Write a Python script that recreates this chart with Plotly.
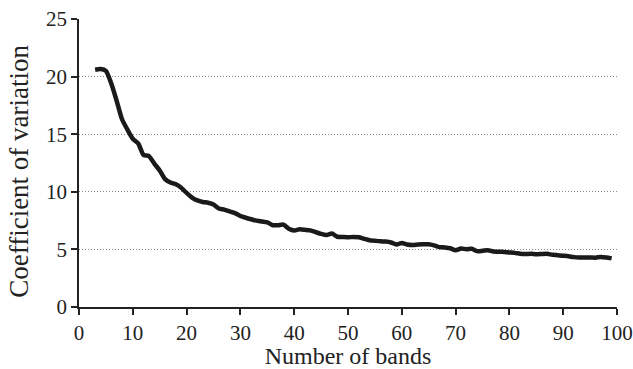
import plotly.graph_objects as go

bands = list(range(3, 100))
cv = [
    20.6, 20.65, 20.5, 19.4, 17.9, 16.3, 15.4, 14.6, 14.2, 13.2,   # 3-12
    13.1, 12.45, 11.85, 11.1, 10.8, 10.65, 10.35, 9.9, 9.5, 9.25,  # 13-22
    9.12, 9.05, 8.9, 8.55, 8.45, 8.3, 8.15, 7.9, 7.75, 7.62,       # 23-32
    7.5, 7.42, 7.35, 7.1, 7.1, 7.15, 6.8, 6.65, 6.74, 6.7,         # 33-42
    6.65, 6.5, 6.35, 6.25, 6.38, 6.1, 6.08, 6.05, 6.08, 6.05,      # 43-52
    5.92, 5.8, 5.75, 5.7, 5.68, 5.6, 5.42, 5.56, 5.42, 5.38,       # 53-62
    5.42, 5.44, 5.44, 5.35, 5.2, 5.17, 5.1, 4.92, 5.08, 5.02,      # 63-72
    5.06, 4.85, 4.88, 4.93, 4.82, 4.8, 4.77, 4.73, 4.7, 4.62,      # 73-82
    4.6, 4.62, 4.58, 4.6, 4.62, 4.53, 4.5, 4.45, 4.4, 4.33,        # 83-92
    4.3, 4.3, 4.3, 4.28, 4.35, 4.3, 4.22,                          # 93-99
]
x_ticks = [0, 10, 20, 30, 40, 50, 60, 70, 80, 90, 100]
y_ticks = [0, 5, 10, 15, 20, 25]
x_title = "Number of bands"
y_title = "Coefficient of variation"

fig = go.Figure()
fig.add_trace(go.Scatter(
    x=bands, y=cv, mode="lines",
    line=dict(color="#1a1a1a", width=4.5, shape="spline", smoothing=0.6),
    showlegend=False,
))

font_family = "Liberation Serif"
fig.update_layout(
    width=633, height=369,
    margin=dict(l=79, r=16, t=19, b=62),
    paper_bgcolor="white", plot_bgcolor="white",
    font=dict(family=font_family, color="#222222", size=21),
    xaxis=dict(
        range=[0, 100], tickvals=x_ticks, ticktext=[str(v) for v in x_ticks],
        showgrid=False, zeroline=False, automargin=False,
        showline=True, linecolor="#222222", linewidth=1.5,
        ticks="outside", ticklen=6, tickwidth=1.5, tickcolor="#222222",
        tickfont=dict(size=21, family=font_family),
        title=dict(text=x_title, font=dict(size=24, family=font_family), standoff=4),
    ),
    yaxis=dict(
        range=[0, 25], tickvals=y_ticks, ticktext=[str(v) for v in y_ticks],
        showgrid=True, gridcolor="#8a8a8a", gridwidth=1, griddash="1px,2px",
        zeroline=False, automargin=False,
        showline=True, linecolor="#222222", linewidth=1.5,
        ticks="outside", ticklen=6, tickwidth=1.5, tickcolor="#222222",
        tickfont=dict(size=21, family=font_family),
    ),
    annotations=[dict(
        text=y_title, textangle=-90, showarrow=False,
        xref="paper", yref="paper", x=-0.113, y=0.47,
        xanchor="center", yanchor="middle",
        font=dict(size=27, family=font_family, color="#222222"),
    )],
)

fig.write_html("out.html", config={"displayModeBar": False},
               post_script="document.body.style.margin='0';")
